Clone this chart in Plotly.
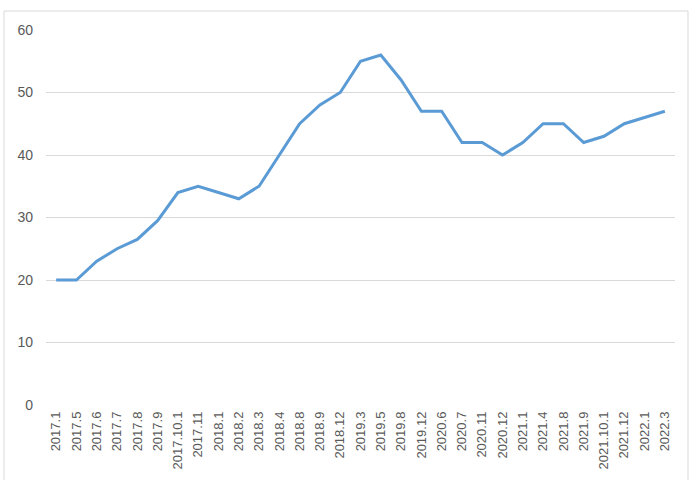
import plotly.graph_objects as go

categories = ["2017.1", "2017.5", "2017.6", "2017.7", "2017.8", "2017.9", "2017.10.1", "2017.11",
              "2018.1", "2018.2", "2018.3", "2018.4", "2018.8", "2018.9", "2018.12", "2019.3",
              "2019.5", "2019.8", "2019.12", "2020.6", "2020.7", "2020.11", "2020.12", "2021.1",
              "2021.4", "2021.8", "2021.9", "2021.10.1", "2021.12", "2022.1", "2022.3"]
values = [20, 20, 23, 25, 26.5, 29.5, 34, 35, 34, 33, 35, 40, 45, 48, 50, 55,
          56, 52, 47, 47, 42, 42, 40, 42, 45, 45, 42, 43, 45, 46, 47]
y_ticks = [0, 10, 20, 30, 40, 50, 60]

fig = go.Figure()
fig.add_trace(go.Scatter(
    x=list(range(len(categories))), y=values, mode="lines",
    line=dict(color="#5b9bd5", width=3), showlegend=False))

W, H = 694, 480
ml, mr, mt, mb = 46, 19, 30, 75
pw, ph = W - ml - mr, H - mt - mb

fig.update_layout(
    width=W, height=H,
    margin=dict(l=ml, r=mr, t=mt, b=mb, autoexpand=False),
    paper_bgcolor="white", plot_bgcolor="white",
    font=dict(family="Liberation Sans, Arial, sans-serif", color="#595959", size=12),
    xaxis=dict(
        tickmode="array", tickvals=list(range(len(categories))), ticktext=categories,
        range=[-0.5, len(categories) - 0.5], tickangle=-90,
        showgrid=False, zeroline=False, showline=False, ticks="",
        ticklabelstandoff=3,
        tickfont=dict(size=13, color="#595959")),
    yaxis=dict(
        range=[0, 60], tickvals=y_ticks, showgrid=True, gridcolor="#d9d9d9", gridwidth=1,
        zeroline=False, showline=False, ticks="", ticklen=0,
        ticklabelstandoff=12,
        tickfont=dict(size=14, color="#595959")),
    shapes=[dict(
        type="rect", xref="paper", yref="paper",
        x0=(4 - ml) / pw, x1=(688 - ml) / pw,
        y0=(H - mb - 484) / ph, y1=(H - mb - 11) / ph,
        line=dict(color="#d9d9d9", width=1), fillcolor="rgba(0,0,0,0)", layer="below")],
)

fig.write_html("out.html", config={"displayModeBar": False},
               post_script="document.body.style.margin='0';document.body.style.overflow='hidden';")
